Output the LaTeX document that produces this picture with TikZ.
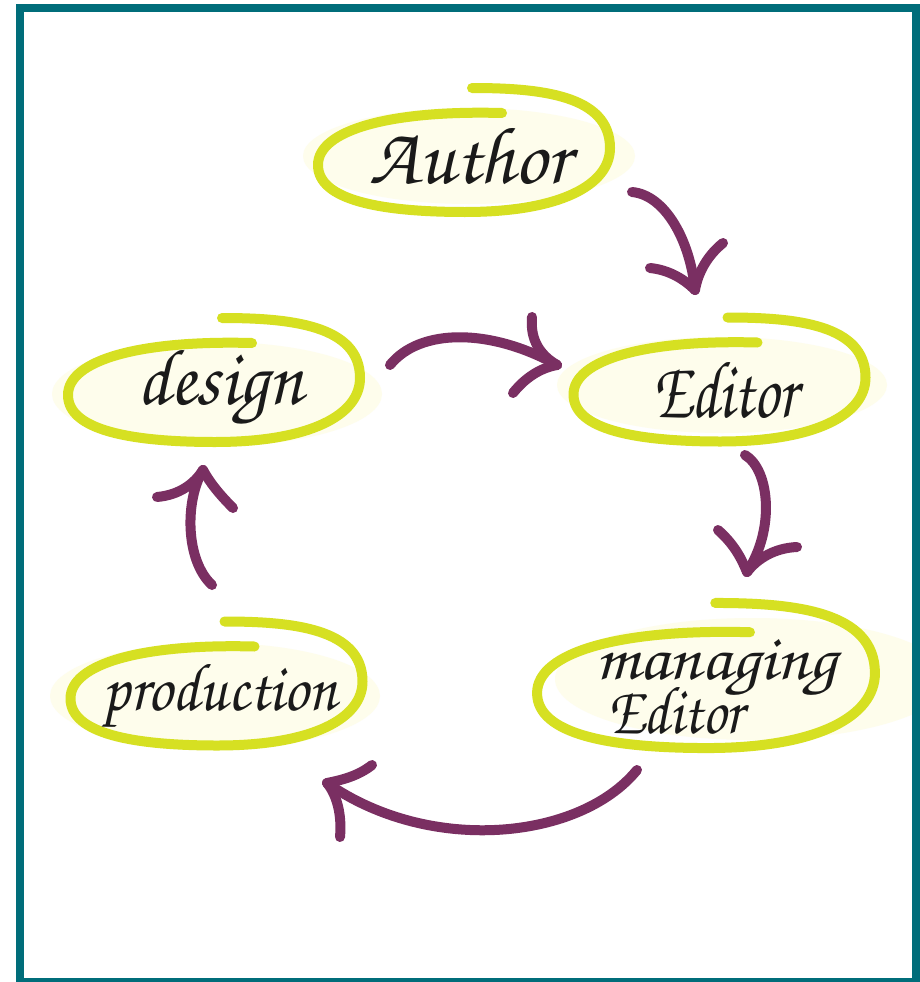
\documentclass[tikz,border=0pt]{standalone}
\usepackage{fontspec}
\newfontfamily\handfont{texgyrechorus-mediumitalic.otf}
\usepackage{graphicx}
\definecolor{bordercol}{HTML}{006D7A}
\definecolor{loopgreen}{HTML}{D6E022}
\definecolor{palefill}{HTML}{FEFDEC}
\definecolor{arrowpurple}{HTML}{7A2F62}
\definecolor{inkcol}{HTML}{1A1A1A}
\tikzset{
  loopline/.style={draw=loopgreen, line width=10pt, line cap=round, line join=round},
  paleblob/.style={fill=palefill, draw=none},
  flowline/.style={draw=arrowpurple, line width=10pt, line cap=round, line join=round},
  handtext/.style={inner sep=0pt, text=inkcol, anchor=base},
}
\newcommand{\gloop}[4]{%
  \draw[loopline, shift={(#1,#2)}, xscale=#3, yscale=#4]
    (38,-37) .. controls (-74,-40) and (-146,-20) .. (-146,15)
    .. controls (-146,50) and (-84,62) .. (1,62)
    .. controls (96,62) and (146,35) .. (146,-2)
    .. controls (146,-55) and (76,-62) .. (8,-62);}
\newcommand{\hw}[3]{\resizebox{#1}{#2}{\handfont #3}}
\begin{document}
\begin{tikzpicture}[x=1pt, y=-1pt]
\useasboundingbox (0,0) rectangle (920,982);
\fill[white] (0,0) rectangle (920,982);

% pale backgrounds
\fill[paleblob] (469,156) ellipse [x radius=166, y radius=48];
\fill[paleblob] (722,385) ellipse [x radius=165, y radius=48];
\fill[paleblob] (217,394) ellipse [x radius=165, y radius=52];
\fill[paleblob] (215,696) ellipse [x radius=165, y radius=53];
\fill[paleblob] (752,679) ellipse [x radius=197, y radius=61];

% green loops
\gloop{464}{150}{1}{1}
\gloop{719.5}{379.5}{1}{1}
\gloop{214}{380}{1}{1}
\gloop{216.5}{683.5}{1}{1}
\gloop{706}{675.5}{1.157}{1.17}

% texts
\node[handtext] (author) at (470,183) {\hw{200pt}{55pt}{Author}};
\node[handtext] (editor) at (725,417) {\hw{145pt}{55pt}{Editor}};
\node[handtext] (design) at (220,404) {\hw{166pt}{54pt}{design}};
\node[handtext] (production) at (220,710) {\hw{234pt}{46pt}{production}};
\node[handtext, anchor=base west] (managing) at (595,733) {\vbox{\baselineskip=54pt\lineskiplimit=-200pt
  \hbox{\hw{242pt}{40pt}{managing}}
  \hbox{\hspace{12pt}\hw{136pt}{46pt}{Editor}}}};

% arrow coordinates
\coordinate (a1s) at (632,192); \coordinate (a1t) at (695,290);
\coordinate (a1l) at (650,268); \coordinate (a1r) at (723,243);
\coordinate (a2s) at (745,455); \coordinate (a2t) at (747,572);
\coordinate (a2l) at (718,530); \coordinate (a2r) at (797,547);
\coordinate (a3s) at (390,365); \coordinate (a3t) at (557,365);
\coordinate (a3l) at (532,317); \coordinate (a3r) at (513,393);
\coordinate (a4s) at (212,585); \coordinate (a4t) at (203,470);
\coordinate (a4l) at (157,497); \coordinate (a4r) at (233,508);
\coordinate (a5s) at (637,770); \coordinate (a5t) at (327,783);
\coordinate (a5l) at (372,765); \coordinate (a5r) at (340,837);

% Author -> Editor
\draw[flowline] (a1s) .. controls (665,195) and (690,240) .. (a1t);
\draw[flowline] (a1l) .. controls (670,270) and (685,280) .. (a1t);
\draw[flowline] (a1r) .. controls (708,255) and (698,272) .. (a1t);
% Editor -> managing Editor
\draw[flowline] (a2s) .. controls (770,470) and (775,530) .. (a2t);
\draw[flowline] (a2l) .. controls (735,545) and (742,560) .. (a2t);
\draw[flowline] (a2r) .. controls (775,548) and (758,558) .. (a2t);
% design -> Editor
\draw[flowline] (a3s) .. controls (420,328) and (490,328) .. (a3t);
\draw[flowline] (a3l) .. controls (530,340) and (540,355) .. (a3t);
\draw[flowline] (a3r) .. controls (525,378) and (540,368) .. (a3t);
% production -> design
\draw[flowline] (a4s) .. controls (185,560) and (185,500) .. (a4t);
\draw[flowline] (a4l) .. controls (180,495) and (195,483) .. (a4t);
\draw[flowline] (a4r) .. controls (220,495) and (210,483) .. (a4t);
% managing Editor -> production
\draw[flowline] (a5s) .. controls (580,840) and (430,855) .. (a5t);
\draw[flowline] (a5l) .. controls (358,776) and (342,780) .. (a5t);
\draw[flowline] (a5r) .. controls (342,815) and (337,795) .. (a5t);

% frame
\draw[draw=bordercol, line width=8pt] (19.5,8.5) rectangle (916,982);
\end{tikzpicture}
\end{document}
